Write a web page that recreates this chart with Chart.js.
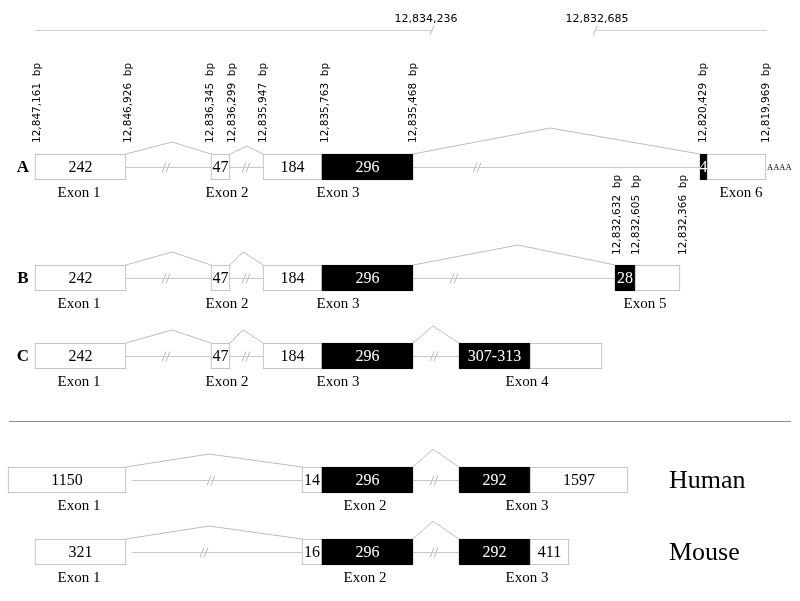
<!DOCTYPE html>
<html><head><meta charset="utf-8">
<script src="https://cdn.jsdelivr.net/npm/chart.js@4/dist/chart.umd.min.js"></script>
<style>html,body{margin:0;padding:0;background:#fff}canvas{display:block}</style>
</head><body>
<canvas id="c" width="800" height="601"></canvas>
<script>
// ---- rows ----
const rowNames   = ['A','B','C','Human','Mouse'];
const rowCenters = [167, 278, 356, 480, 552];

// ---- exon segments (diagram units) ----
const exonRow    = [0,0,0,0,0,0, 1,1,1,1,1,1, 2,2,2,2,2,2, 3,3,3,3,3, 4,4,4,4,4];
const exonStart  = [35,211,263,322,700,707, 35,211,263,322,615,635, 35,211,263,322,459,530, 8,302,322,459,530, 35,302,322,459,530];
const exonEnd    = [126,230,322,413,707,766, 126,230,322,413,635,680, 126,230,322,413,530,602, 126,322,413,530,628, 126,322,413,530,569];
const exonCoding = [0,0,0,1,1,0, 0,0,0,1,1,0, 0,0,0,1,1,0, 0,0,1,1,0, 0,0,1,1,0];
const exonText   = ['242','47','184','296','4','', '242','47','184','296','28','', '242','47','184','296','307-313','', '1150','14','296','292','1597', '321','16','296','292','411'];

// ---- exon names ----
const nameRow  = [0,0,0,0, 1,1,1,1, 2,2,2,2, 3,3,3, 4,4,4];
const nameText = ['Exon 1','Exon 2','Exon 3','Exon 6', 'Exon 1','Exon 2','Exon 3','Exon 5', 'Exon 1','Exon 2','Exon 3','Exon 4', 'Exon 1','Exon 2','Exon 3', 'Exon 1','Exon 2','Exon 3'];
const nameX    = [79,227,338,741, 79,227,338,645, 79,227,338,527, 79,365,527, 79,365,527];

// ---- introns ----
const intronRow  = [0,0,0, 1,1,1, 2,2,2, 3,3, 4,4];
const intronFrom = [126,230,413, 126,230,413, 126,230,413, 132,413, 132,413];
const intronTo   = [211,263,700, 211,263,615, 211,263,459, 302,459, 302,459];
const intronBreak= [167,247,478, 167,247,455, 167,247,435, 212,435, 205,435];

// ---- splice connectors ----
const spliceRow   = [0,0,0, 1,1,1, 2,2,2, 3,3, 4,4];
const spliceFrom  = [126,230,413, 126,230,413, 126,230,413, 126,413, 126,413];
const splicePeakX = [172,247,550, 172,243,518, 172,243,433, 209,433, 209,433];
const splicePeakY = [142,146,128, 252,252,245, 330,330,326, 454,449, 526,521];
const spliceTo    = [211,263,700, 211,263,615, 211,263,459, 302,459, 302,459];

// ---- genomic coordinate labels ----
const coordText = ['12,847,161','12,846,926','12,836,345','12,836,299','12,835,947','12,835,763','12,835,468','12,820,429','12,819,969','12,832,632','12,832,605','12,832,366'];
const coordX    = [37,128,210,232,263,325,413,703,766,617,636,683];
const coordBase = [143,143,143,143,143,143,143,143,143,255,255,255];

// ---- top scale bar ----
const scaleText   = ['12,834,236','12,832,685'];
const scaleTextX  = [426, 597];
const scaleFrom   = [35, 595];
const scaleTo     = [433, 767];
const scaleBreakX = [432, 595];
const scaleY = 30, scaleLabelY = 19;

// ---- separator ----
const sepFrom = 9, sepTo = 791, sepY = 421;

const BOX_H = 26;
const SERIF = '"Liberation Serif", "Times New Roman", serif';
const SANS = '"DejaVu Sans", Verdana, sans-serif';
const LINE = '#c8c8c8';

const datasets = [];
function seg(points, color, width) {
  datasets.push({type:'line', data: points, borderColor: color, borderWidth: width || 1,
    pointRadius: 0, showLine: true, fill: false, tension: 0, order: 2});
}
// introns with breaks
intronRow.forEach((r, i) => {
  const y = rowCenters[r] + 0.5;
  seg([{x:intronFrom[i], y}, {x:intronTo[i], y}], LINE);
  const b = intronBreak[i];
  seg([{x:b-5, y:y+5}, {x:b-1, y:y-5}], '#b8b8b8');
  seg([{x:b-1, y:y+5}, {x:b+3, y:y-5}], '#b8b8b8');
});
// splice hats
spliceRow.forEach((r, i) => {
  const top = rowCenters[r] - BOX_H/2;
  seg([{x:spliceFrom[i], y:top}, {x:splicePeakX[i], y:splicePeakY[i]}, {x:spliceTo[i], y:top}], '#bdbdbd');
});
// scale bar
scaleFrom.forEach((f, i) => {
  seg([{x:f, y:scaleY+0.5}, {x:scaleTo[i], y:scaleY+0.5}], '#cfcfcf');
  const b = scaleBreakX[i];
  seg([{x:b-2, y:scaleY+5}, {x:b+2, y:scaleY-4}], '#b8b8b8');
});
// separator
seg([{x:sepFrom, y:sepY+0.5}, {x:sepTo, y:sepY+0.5}], '#8c8c8c');

// exon boxes
datasets.push({
  type: 'bar', indexAxis: 'y', grouped: false, barThickness: BOX_H, order: 1,
  data: exonRow.map((r, i) => ({x: [exonStart[i], exonEnd[i]], y: rowCenters[r]})),
  backgroundColor: exonCoding.map(c => c ? '#000' : '#fff'),
  borderColor: exonCoding.map(c => c ? '#000' : '#b4b4b4'),
  borderWidth: 1, borderSkipped: false
});

const textPlugin = {
  id: 'texts',
  afterDatasetsDraw(chart) {
    const ctx = chart.ctx, xs = chart.scales.x, ys = chart.scales.y;
    const X = v => xs.getPixelForValue(v), Y = v => ys.getPixelForValue(v);
    ctx.save();
    // exon sizes
    ctx.textAlign = 'center'; ctx.textBaseline = 'middle';
    ctx.font = '16px ' + SERIF;
    exonRow.forEach((r, i) => {
      if (!exonText[i]) return;
      ctx.fillStyle = exonCoding[i] ? '#fff' : '#000';
      ctx.fillText(exonText[i], X((exonStart[i] + exonEnd[i]) / 2), Y(rowCenters[r]) + 1);
    });
    // exon names
    ctx.fillStyle = '#000'; ctx.textBaseline = 'alphabetic';
    ctx.font = '15px ' + SERIF;
    nameRow.forEach((r, i) => ctx.fillText(nameText[i], X(nameX[i]), Y(rowCenters[r] + 30)));
    // row letters
    ctx.font = 'bold 17px ' + SERIF; ctx.textBaseline = 'middle';
    [0,1,2].forEach(r => ctx.fillText(rowNames[r], X(23), Y(rowCenters[r]) + 1));
    // species
    ctx.font = '26px ' + SERIF; ctx.textAlign = 'left';
    [3,4].forEach(r => ctx.fillText(rowNames[r], X(669), Y(rowCenters[r]) + 1));
    // polyA
    ctx.font = '8.5px ' + SERIF;
    ctx.fillText('AAAA', X(767), Y(rowCenters[0] + 1));
    // scale labels
    ctx.font = '11px ' + SANS; ctx.textAlign = 'center';
    scaleText.forEach((t, i) => ctx.fillText(t, X(scaleTextX[i]), Y(scaleLabelY)));
    // rotated coordinate labels
    ctx.font = '10.5px ' + SANS; ctx.textAlign = 'left';
    coordText.forEach((t, i) => {
      ctx.save();
      ctx.translate(X(coordX[i]), Y(coordBase[i]));
      ctx.rotate(-Math.PI / 2);
      ctx.fillText(t + '  bp', 0, 0);
      ctx.restore();
    });
    ctx.restore();
  }
};

new Chart(document.getElementById('c'), {
  type: 'scatter',
  data: { datasets },
  options: {
    responsive: false, animation: false, maintainAspectRatio: false,
    layout: { padding: 0 },
    plugins: { legend: { display: false }, tooltip: { enabled: false } },
    scales: {
      x: { type: 'linear', min: 0, max: 800, display: false, offset: false },
      y: { type: 'linear', min: 0, max: 601, reverse: true, display: false, offset: false }
    }
  },
  plugins: [textPlugin]
});
</script>
</body></html>
